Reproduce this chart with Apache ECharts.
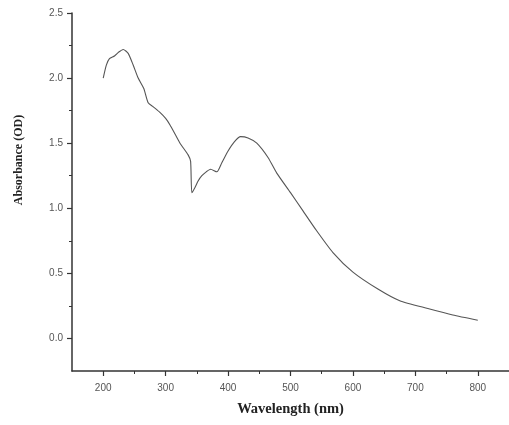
<!DOCTYPE html>
<html>
<head>
<meta charset="utf-8">
<script src="https://cdn.jsdelivr.net/npm/echarts@6/dist/echarts.min.js"></script>
<style>
  html, body { margin: 0; padding: 0; background: #fff; }
  #chart { width: 509px; height: 425px; }
</style>
</head>
<body>
<div id="chart"></div>
<script>
// UV-Vis absorption spectrum
const wavelength = [200, 205, 210, 218, 225, 232, 240, 248, 256, 265, 272, 280, 290, 300, 307, 315, 323, 336, 340, 342, 347, 352, 358, 365, 372, 382, 390, 400, 410, 420, 432, 446, 464, 478, 500, 520, 540, 568, 600, 640, 675, 720, 760, 800];
const absorbance = [2.00, 2.10, 2.15, 2.17, 2.20, 2.22, 2.19, 2.10, 2.00, 1.92, 1.81, 1.78, 1.74, 1.69, 1.64, 1.57, 1.50, 1.41, 1.36, 1.12, 1.16, 1.21, 1.25, 1.28, 1.30, 1.28, 1.35, 1.44, 1.51, 1.55, 1.54, 1.50, 1.39, 1.27, 1.12, 0.98, 0.84, 0.66, 0.51, 0.38, 0.29, 0.23, 0.18, 0.14];

// tick positions
const xMajorTicks = [200, 300, 400, 500, 600, 700, 800];
const xMinorTicks = [250, 350, 450, 550, 650, 750];
const yMajorTicks = [0, 0.5, 1.0, 1.5, 2.0, 2.5];
const yMinorTicks = [0.25, 0.75, 1.25, 1.75, 2.25];

const axisColor = '#333';
const labelStyle = { color: '#555', fontSize: 10, fontFamily: 'Liberation Sans, Arial, sans-serif' };
const titleFont = { color: '#222', fontWeight: 'bold', fontFamily: 'Liberation Serif, Times New Roman, serif' };

const points = wavelength.map((w, i) => [w, absorbance[i]]);

const chart = echarts.init(document.getElementById('chart'), null, { renderer: 'canvas' });
chart.setOption({
  animation: false,
  backgroundColor: '#fff',
  grid: { left: 72, right: 0, top: 13, bottom: 54, containLabel: false },
  xAxis: [
    {
      type: 'value', position: 'bottom', min: 150, max: 850, interval: 50,
      name: 'Wavelength (nm)', nameLocation: 'middle', nameGap: 31,
      nameTextStyle: Object.assign({}, titleFont, { fontSize: 14.5 }),
      axisLine: { show: true, onZero: false, lineStyle: { color: axisColor, width: 1.5 } },
      axisTick: { show: true, inside: false, length: 5, customValues: xMajorTicks, lineStyle: { color: axisColor, width: 1.2 } },
      axisLabel: { show: true, margin: 12, customValues: xMajorTicks, ...labelStyle },
      splitLine: { show: false }
    },
    {
      type: 'value', position: 'bottom', min: 150, max: 850, interval: 50,
      axisLine: { show: false, onZero: false },
      axisTick: { show: true, inside: false, length: 3, customValues: xMinorTicks, lineStyle: { color: axisColor, width: 1 } },
      axisLabel: { show: false },
      splitLine: { show: false }
    }
  ],
  yAxis: [
    {
      type: 'value', position: 'left', min: -0.25, max: 2.5, interval: 0.25,
      name: 'Absorbance (OD)', nameLocation: 'middle', nameGap: 47, nameRotate: 90,
      nameTextStyle: Object.assign({}, titleFont, { fontSize: 12, padding: [0, 0, 0, 64] }),
      axisLine: { show: true, onZero: false, lineStyle: { color: axisColor, width: 1.5 } },
      axisTick: { show: true, inside: false, length: 5, customValues: yMajorTicks, lineStyle: { color: axisColor, width: 1.2 } },
      axisLabel: { show: true, margin: 9, customValues: yMajorTicks, formatter: v => v.toFixed(1), ...labelStyle },
      splitLine: { show: false }
    },
    {
      type: 'value', position: 'left', min: -0.25, max: 2.5, interval: 0.25,
      axisLine: { show: false, onZero: false },
      axisTick: { show: true, inside: false, length: 3, customValues: yMinorTicks, lineStyle: { color: axisColor, width: 1 } },
      axisLabel: { show: false },
      splitLine: { show: false }
    }
  ],
  series: [{
    type: 'line',
    data: points,
    xAxisIndex: 0, yAxisIndex: 0,
    showSymbol: false,
    smooth: 0.2,
    lineStyle: { color: '#555', width: 1.1 }
  }]
});
</script>
</body>
</html>
